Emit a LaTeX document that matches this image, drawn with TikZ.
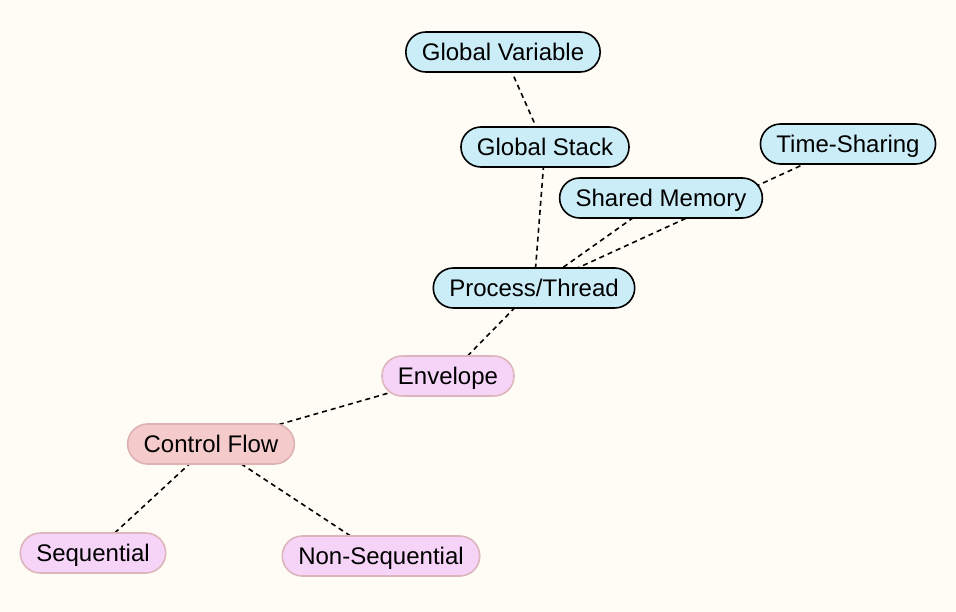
\documentclass[tikz,border=0pt]{standalone}
\usepackage{fontspec}
\setmainfont{Liberation Sans}
\usetikzlibrary{backgrounds}
\definecolor{bgc}{HTML}{FEFCF4}
\definecolor{bluefill}{HTML}{CBEDF8}
\definecolor{pinkfill}{HTML}{F5D4F8}
\definecolor{pinkline}{HTML}{DDB5BC}
\definecolor{redfill}{HTML}{F4CACA}
\definecolor{redline}{HTML}{DDB2B2}
\tikzset{
  x=1pt,y=-1pt,
  base/.style={rounded corners=20pt,minimum height=40pt,inner xsep=16pt,inner ysep=0pt,text height=17.2pt,text depth=0pt,line width=1.6pt,font=\fontsize{24}{28}\selectfont},
  bluebox/.style={base,draw=black,fill=bluefill},
  pinkbox/.style={base,draw=pinkline,fill=pinkfill},
  redbox/.style={base,draw=redline,fill=redfill},
  link/.style={draw=black,line width=1.6pt,dash pattern=on 5pt off 4pt}
}
\begin{document}
\begin{tikzpicture}
\useasboundingbox (0,0) rectangle (956,612);
\node[bluebox] (gv) at (503,52) {Global Variable};
\node[bluebox] (gs) at (545,147) {Global Stack};
\node[bluebox] (ts) at (848,144) {Time-Sharing};
\node[bluebox] (sm) at (661,198) {Shared Memory};
\node[bluebox] (pt) at (534,288) {Process/Thread};
\node[pinkbox] (env) at (448,376) {Envelope};
\node[redbox] (cf) at (211,444) {Control Flow};
\node[pinkbox] (seq) at (93,553) {Sequential};
\node[pinkbox] (nseq) at (381,556) {Non-Sequential};
\begin{scope}[on background layer]
\fill[bgc] (0,0) rectangle (956,612);
\draw[link] (gv.center) -- (gs.center);
\draw[link] (gs.center) -- (pt.center);
\draw[link] (pt.center) -- (sm.center);
\draw[link] (pt.center) -- (ts.center);
\draw[link] (pt.center) -- (env.center);
\draw[link] (env.center) -- (cf.center);
\draw[link] (cf.center) -- (seq.center);
\draw[link] (cf.center) -- (nseq.center);
\end{scope}
\end{tikzpicture}
\end{document}
